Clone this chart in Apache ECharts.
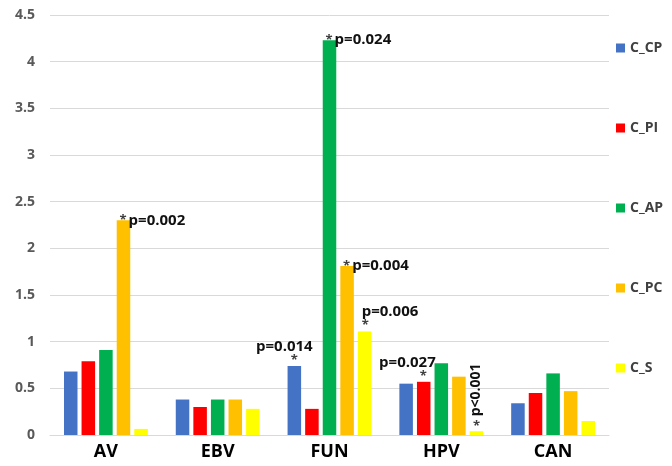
<!DOCTYPE html>
<html>
<head>
<meta charset="utf-8">
<script src="https://cdn.jsdelivr.net/npm/echarts@6/dist/echarts.min.js"></script>
<style>html,body{margin:0;padding:0;background:#fff;}#c{width:672px;height:466px;}</style>
</head>
<body>
<div id="c"></div>
<script>
var categories = ['AV', 'EBV', 'FUN', 'HPV', 'CAN'];
var seriesNames = ['C_CP', 'C_PI', 'C_AP', 'C_PC', 'C_S'];
var C_CP = [0.68, 0.38, 0.74, 0.55, 0.34];
var C_PI = [0.79, 0.30, 0.28, 0.57, 0.45];
var C_AP = [0.91, 0.38, 4.23, 0.77, 0.66];
var C_PC = [2.30, 0.38, 1.81, 0.625, 0.47];
var C_S  = [0.065, 0.28, 1.11, 0.04, 0.15];
var colors = ['#4472C4', '#FF0000', '#00B050', '#FFC000', '#FFFF00'];

// significance annotations
var pSeries = ['C_PC', 'C_AP', 'C_PC', 'C_CP', 'C_S', 'C_PI', 'C_S'];
var pCats   = ['AV', 'FUN', 'FUN', 'FUN', 'FUN', 'HPV', 'HPV'];
var pTexts  = ['p=0.002', 'p=0.024', 'p=0.004', 'p=0.014', 'p=0.006', 'p=0.027', 'p<0.001'];
var pModes  = ['right', 'right', 'right', 'above', 'aboveLeft', 'aboveRight', 'vertical'];

var valuesBySeries = {C_CP: C_CP, C_PI: C_PI, C_AP: C_AP, C_PC: C_PC, C_S: C_S};

function labelFor(mode, t) {
  if (mode === 'right') return {show: true, position: 'top', distance: 0, align: 'left', verticalAlign: 'middle', offset: [-4, 0], formatter: '{sr|*}{p|' + t + '}'};
  if (mode === 'above') return {show: true, position: 'top', distance: 1, offset: [-10, 0], formatter: '{p|' + t + '}\n{sc|*}'};
  if (mode === 'aboveLeft') return {show: true, position: 'top', distance: 1, align: 'left', offset: [-3, 0], formatter: '{p|' + t + '}\n{s|*}'};
  if (mode === 'aboveRight') return {show: true, position: 'top', distance: 1, align: 'right', offset: [12, 0], formatter: '{p|' + t + '}\n{s2|*}'};
  if (mode === 'vertical') return {show: true, position: 'top', distance: 0, formatter: '{s|*}'};
  return {show: false};
}

var F = 'Open Sans';
var richStyles = {
  p: {fontFamily: F, fontWeight: 'bold', fontSize: 15, color: '#111', lineHeight: 17},
  s: {fontFamily: F, fontWeight: 'bold', fontSize: 13, color: '#404040', lineHeight: 10},
  sr: {fontFamily: F, fontWeight: 'bold', fontSize: 13, color: '#404040', lineHeight: 10, padding: [0, 2, 0, 0]},
  sc: {fontFamily: F, fontWeight: 'bold', fontSize: 13, color: '#404040', lineHeight: 10, padding: [0, 0, 0, 20]},
  s2: {fontFamily: F, fontWeight: 'bold', fontSize: 13, color: '#404040', lineHeight: 10, padding: [0, 9, 0, 0]}
};

var series = seriesNames.map(function (name, si) {
  var vals = valuesBySeries[name];
  var data = vals.map(function (v, ci) {
    var item = {value: v};
    for (var k = 0; k < pSeries.length; k++) {
      if (pSeries[k] === name && pCats[k] === categories[ci]) {
        item.label = labelFor(pModes[k], pTexts[k]);
      }
    }
    return item;
  });
  var s = {
    name: name,
    type: 'bar',
    data: data,
    barGap: '30%',
    barCategoryGap: '25%',
    itemStyle: {color: colors[si]},
    label: {show: false, rich: richStyles},
    emphasis: {disabled: true}
  };
  var marks = [];
  for (var k = 0; k < pSeries.length; k++) {
    if (pSeries[k] === name && pModes[k] === 'vertical') {
      var ci = categories.indexOf(pCats[k]);
      marks.push({coord: [pCats[k], vals[ci]], value: pTexts[k]});
    }
  }
  if (marks.length) {
    s.markPoint = {
      symbol: 'circle', symbolSize: 0, silent: true,
      label: {show: true, position: [0, -15], rotate: 90, align: 'left', verticalAlign: 'middle',
        fontFamily: F, fontWeight: 'bold', fontSize: 14, color: '#111',
        formatter: function (p) { return p.value; }},
      data: marks
    };
  }
  return s;
});

var chart = echarts.init(document.getElementById('c'), null, {renderer: 'canvas'});
chart.setOption({
  animation: false,
  backgroundColor: '#ffffff',
  color: colors,
  grid: {left: 50, right: 63, top: 15, bottom: 31, containLabel: false},
  legend: {
    orient: 'vertical', left: 611, top: 36, itemWidth: 9, itemHeight: 9, itemGap: 66, icon: 'rect',
    textStyle: {fontFamily: F, fontWeight: 'bold', fontSize: 14, lineHeight: 14, color: '#404040'},
    data: seriesNames
  },
  xAxis: {
    type: 'category', data: categories,
    axisLine: {lineStyle: {color: '#d9d9d9'}},
    axisTick: {show: false},
    axisLabel: {fontFamily: F, fontWeight: 'bold', fontSize: 18, color: '#000', margin: 8}
  },
  yAxis: {
    type: 'value', min: 0, max: 4.5, interval: 0.5,
    axisLine: {show: false}, axisTick: {show: false},
    splitLine: {lineStyle: {color: '#d9d9d9'}},
    axisLabel: {fontFamily: F, fontWeight: 'bold', fontSize: 14, color: '#595959', margin: 15}
  },
  series: series
});
</script>
</body>
</html>
